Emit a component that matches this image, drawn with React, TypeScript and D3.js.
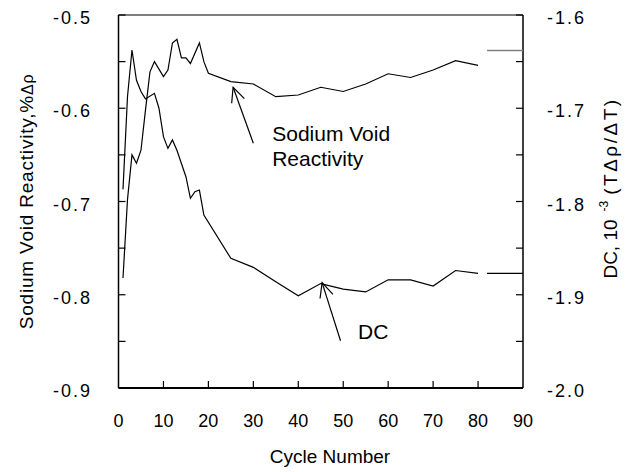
import React from "react";
import * as d3 from "d3";

// Sodium void reactivity (left axis, %Δρ)
const svrCycles = [1, 2, 3, 4, 5, 6, 7, 8, 10, 11, 12, 13, 14, 15, 16, 18, 19, 20, 25, 30, 35, 40, 45, 50, 55, 60, 65, 70, 75, 80];
const svrValues = [-0.782, -0.698, -0.65, -0.659, -0.645, -0.602, -0.561, -0.55, -0.566, -0.559, -0.53, -0.526, -0.546, -0.546, -0.552, -0.53, -0.55, -0.5625, -0.5715, -0.574, -0.5876, -0.5858, -0.5775, -0.582, -0.574, -0.563, -0.567, -0.559, -0.549, -0.554];

// DC (right axis, 10^-3 TΔρ/ΔT)
const dcCycles = [1, 2, 3, 4, 5, 6, 8, 9, 10, 11, 12, 13, 15, 16, 17, 18, 19, 25, 30, 35, 40, 45, 50, 55, 60, 65, 70, 75, 80];
const dcValues = [-1.787, -1.6876, -1.6375, -1.67, -1.682, -1.69, -1.684, -1.7, -1.7305, -1.743, -1.734, -1.745, -1.7734, -1.7966, -1.7895, -1.7877, -1.8145, -1.861, -1.8706, -1.886, -1.901, -1.888, -1.894, -1.897, -1.884, -1.884, -1.8906, -1.874, -1.877];

// short extension segments at the right edge
const svrExtCycles = [82, 90];
const svrExtValue = -0.538;
const dcExtCycles = [82, 90];
const dcExtValue = -1.877;

const xTicks = [0, 10, 20, 30, 40, 50, 60, 70, 80, 90];
const leftTicks = [-0.5, -0.6, -0.7, -0.8, -0.9];
const leftMinor = [-0.55, -0.65, -0.75, -0.85];
const rightTicks = [-1.6, -1.7, -1.8, -1.9, -2.0];
const rightMinor = [-1.65, -1.75, -1.85, -1.95];

export default function App() {
  const W = 636, H = 472;
  const L = 118.5, R = 523, T = 15, B = 388;
  const x = d3.scaleLinear().domain([0, 90]).range([L, R]);
  const yL = d3.scaleLinear().domain([-0.9, -0.5]).range([B, T]);
  const yR = d3.scaleLinear().domain([-2.0, -1.6]).range([B, T]);

  const svrLine = d3.line<number>().x((_, i) => x(svrCycles[i])).y((d) => yL(d));
  const dcLine = d3.line<number>().x((_, i) => x(dcCycles[i])).y((d) => yR(d));

  const font = "'Liberation Sans', Arial, sans-serif";
  const tickLen = 7;

  const arrow = (x1: number, y1: number, x2: number, y2: number, key: string) => {
    const dx = x1 - x2, dy = y1 - y2;
    const len = Math.hypot(dx, dy);
    const ux = dx / len, uy = dy / len;
    const hl = 16, a = (25 * Math.PI) / 180;
    const w1x = x2 + hl * (ux * Math.cos(a) - uy * Math.sin(a));
    const w1y = y2 + hl * (ux * Math.sin(a) + uy * Math.cos(a));
    const w2x = x2 + hl * (ux * Math.cos(-a) - uy * Math.sin(-a));
    const w2y = y2 + hl * (ux * Math.sin(-a) + uy * Math.cos(-a));
    return (
      <g key={key} stroke="#000" strokeWidth={1.2} fill="none">
        <line x1={x1} y1={y1} x2={x2} y2={y2} />
        <polyline points={`${w1x},${w1y} ${x2},${y2} ${w2x},${w2y}`} />
      </g>
    );
  };

  return (
    <svg width={W} height={H} style={{ position: "absolute", left: 0, top: 0, background: "#fff" }} fontFamily={font}>
      <rect x={0} y={0} width={W} height={H} fill="#fff" />
      {/* frame */}
      <line x1={L} y1={T} x2={R} y2={T} stroke="#000" strokeWidth={1.2} />
      <line x1={L} y1={T} x2={L} y2={B} stroke="#000" strokeWidth={1.5} />
      <line x1={R} y1={T} x2={R} y2={B} stroke="#000" strokeWidth={1.5} />
      <line x1={L} y1={B} x2={R} y2={B} stroke="#000" strokeWidth={2} />

      {/* x ticks */}
      {xTicks.map((t) => (
        <g key={"x" + t}>
          {t > 0 && t < 90 && <line x1={x(t)} x2={x(t)} y1={B} y2={B - tickLen} stroke="#000" strokeWidth={1.2} />}
          <text x={x(t)} y={427} textAnchor="middle" fontSize={18}>{t}</text>
        </g>
      ))}
      {/* left ticks */}
      {leftTicks.map((t) => (
        <g key={"l" + t}>
          <line x1={L} x2={L + tickLen} y1={yL(t)} y2={yL(t)} stroke="#000" strokeWidth={1.2} />
          <text x={92} y={yL(t) + 9} textAnchor="end" fontSize={18} letterSpacing={2}>{t.toFixed(1)}</text>
        </g>
      ))}
      {leftMinor.map((t) => (
        <line key={"lm" + t} x1={L} x2={L + tickLen} y1={yL(t)} y2={yL(t)} stroke="#000" strokeWidth={1.2} />
      ))}
      {/* right ticks */}
      {rightTicks.map((t) => (
        <g key={"r" + t}>
          <line x1={R} x2={R - tickLen} y1={yR(t)} y2={yR(t)} stroke="#000" strokeWidth={1.2} />
          <text x={547} y={yR(t) + 9} textAnchor="start" fontSize={18} letterSpacing={2}>{t.toFixed(1)}</text>
        </g>
      ))}
      {rightMinor.map((t) => (
        <line key={"rm" + t} x1={R} x2={R - tickLen} y1={yR(t)} y2={yR(t)} stroke="#000" strokeWidth={1.2} />
      ))}

      {/* axis titles */}
      <text x={330} y={463} textAnchor="middle" fontSize={19}>Cycle Number</text>
      <text transform={`translate(33,${(T + B) / 2}) rotate(-90)`} textAnchor="middle" fontSize={19} letterSpacing={0.8}>
        Sodium Void Reactivity,%<tspan fontSize={16}>Δρ</tspan>
      </text>
      <text transform={`translate(617,188) rotate(-90)`} textAnchor="middle" fontSize={19}>
        DC, 10<tspan fontSize={12} dy={-9} dx={8}>-3</tspan><tspan dy={9} dx={6} letterSpacing={2.5}>(TΔρ/ΔT)</tspan>
      </text>

      {/* series */}
      <path d={svrLine(svrValues) || ""} fill="none" stroke="#000" strokeWidth={1.2} />
      <path d={dcLine(dcValues) || ""} fill="none" stroke="#000" strokeWidth={1.2} />
      <line x1={x(svrExtCycles[0])} x2={x(svrExtCycles[1])} y1={yL(svrExtValue)} y2={yL(svrExtValue)} stroke="#808080" strokeWidth={1.5} />
      <line x1={x(dcExtCycles[0])} x2={x(dcExtCycles[1])} y1={yR(dcExtValue)} y2={yR(dcExtValue)} stroke="#000" strokeWidth={1.2} />

      {/* annotations */}
      {arrow(x(30), yL(-0.6376), x(25.5), yL(-0.5775), "a1")}
      {arrow(x(49.4), yR(-1.9493), x(45.3), yR(-1.887), "a2")}
      <text x={x(34.2)} y={yL(-0.6346)} fontSize={21}>Sodium Void</text>
      <text x={x(34.2)} y={yL(-0.6346) + 25.5} fontSize={21}>Reactivity</text>
      <text x={x(53.3)} y={yR(-1.9474)} fontSize={21}>DC</text>
    </svg>
  );
}
